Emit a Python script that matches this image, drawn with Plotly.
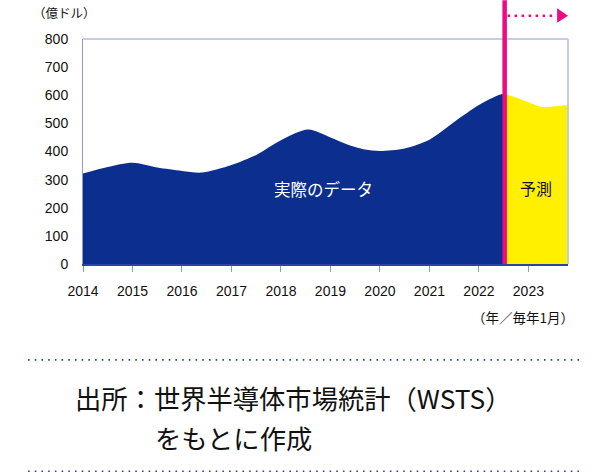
import plotly.graph_objects as go

# ---- data ----
actual_x = [2014.0, 2014.5, 2015.0, 2015.5, 2016.0, 2016.4, 2017.0, 2017.5, 2018.0,
            2018.55, 2019.0, 2019.33, 2019.7, 2020.0, 2020.5, 2021.0, 2021.5,
            2022.0, 2022.4, 2022.52]
actual_y = [322, 345, 360, 343, 331, 325, 352, 388, 440,
            478, 450, 426, 407, 402, 411, 442, 505,
            565, 601, 605]
forecast_x = [2022.52, 2022.75, 2023.0, 2023.28, 2023.5, 2023.8]
forecast_y = [605, 592, 575, 558, 560, 565]
year_ticks = [2014, 2015, 2016, 2017, 2018, 2019, 2020, 2021, 2022, 2023]
value_ticks = [0, 100, 200, 300, 400, 500, 600, 700, 800]

NAVY = "#0c2f8f"
YELLOW = "#fff000"
PINK = "#ee0a80"
TICKFONT = "Liberation Sans, Arial, sans-serif"
JPFONT = "Noto Sans CJK JP, sans-serif"

fig = go.Figure()
fig.add_trace(go.Scatter(x=actual_x, y=actual_y, mode="lines", fill="tozeroy",
                         line=dict(width=0, shape="spline", smoothing=0.8, color=NAVY),
                         fillcolor=NAVY, hoverinfo="skip", showlegend=False))
fig.add_trace(go.Scatter(x=forecast_x, y=forecast_y, mode="lines", fill="tozeroy",
                         line=dict(width=0, shape="spline", smoothing=0.8, color=YELLOW),
                         fillcolor=YELLOW, hoverinfo="skip", showlegend=False))

W, H = 610, 473
L, R, T, B = 83, 568.5, 38.7, 264
fig.update_layout(
    width=W, height=H, autosize=False,
    margin=dict(l=L, r=W - R, t=T, b=H - B, pad=0),
    paper_bgcolor="white", plot_bgcolor="white",
    xaxis=dict(range=[2014, 2023.8], tickvals=year_ticks, ticktext=[str(v) for v in year_ticks],
               showgrid=False, zeroline=False, showline=True, linecolor="#2a44a6", linewidth=2,
               ticks="outside", ticklen=6, tickcolor="#8a9ad4", tickwidth=1,
               tickfont=dict(family=TICKFONT, size=14, color="#111111"),
               ticklabelstandoff=7, fixedrange=True),
    yaxis=dict(range=[0, 800], tickvals=value_ticks, ticktext=[str(v) for v in value_ticks],
               showgrid=False, zeroline=False, showline=True, linecolor="#8a9ad4", linewidth=1,
               ticks="", tickfont=dict(family=TICKFONT, size=14, color="#111111"),
               ticklabelstandoff=11, fixedrange=True),
)

# frame: top and right
fig.add_shape(type="line", xref="paper", yref="paper", x0=0, x1=1, y0=1, y1=1,
              line=dict(color="#8a9ad4", width=1))
fig.add_shape(type="line", xref="paper", yref="paper", x0=1, x1=1, y0=0, y1=1,
              line=dict(color="#c3cbe3", width=2))

# pink divider
ph = B - T
fig.add_shape(type="line", xref="x", yref="paper", x0=2022.52, x1=2022.52, y0=0,
              y1=1 + T / ph, line=dict(color=PINK, width=4.5))
# dotted arrow
ya = 1 + (T - 15.3) / ph
fig.add_shape(type="line", xref="x", yref="paper", x0=2022.58, x1=2023.56, y0=ya, y1=ya,
              line=dict(color=PINK, width=2.5, dash="2.5px,4.5px"))
yt = 1 + (T - 8) / ph
yb = 1 + (T - 22.5) / ph
fig.add_shape(type="path", xref="x", yref="paper",
              path=f"M 2023.58 {yt} L 2023.8 {ya} L 2023.58 {yb} Z",
              fillcolor=PINK, line=dict(width=0))

ann = [
    dict(text="（億ドル）", x=31, y=12, size=12.5, color="#111111", xanchor="left"),
    dict(text="実際のデータ", x=324, y=189, size=16.5, color="white", xanchor="center"),
    dict(text="予測", x=536, y=187.5, size=16, color="#111111", xanchor="center"),
    dict(text="（年／毎年1月）", x=577, y=317.5, size=13.5, color="#111111", xanchor="right"),
    dict(text="出所：世界半導体市場統計（WSTS）", x=73, y=398, size=26.3, color="#111111", xanchor="left"),
    dict(text="をもとに作成", x=153, y=438, size=26.3, color="#111111", xanchor="left"),
]
for a in ann:
    fig.add_annotation(text=a["text"], xref="paper", yref="paper",
                       x=(a["x"] - L) / (R - L), y=(B - a["y"]) / (B - T),
                       xanchor=a["xanchor"], yanchor="middle", showarrow=False,
                       font=dict(family=JPFONT, size=a["size"], color=a["color"]))

# dotted separators
for yy in (360, 471.5):
    yp = (B - yy) / (B - T)
    fig.add_shape(type="line", xref="paper", yref="paper",
                  x0=(28 - L) / (R - L), x1=(580 - L) / (R - L), y0=yp, y1=yp,
                  line=dict(color="#2a44a6", width=1.6, dash="1.6px,5.1px"))

fig.write_html("out.html", config={"displayModeBar": False},
               post_script="document.body.style.margin='0';")
